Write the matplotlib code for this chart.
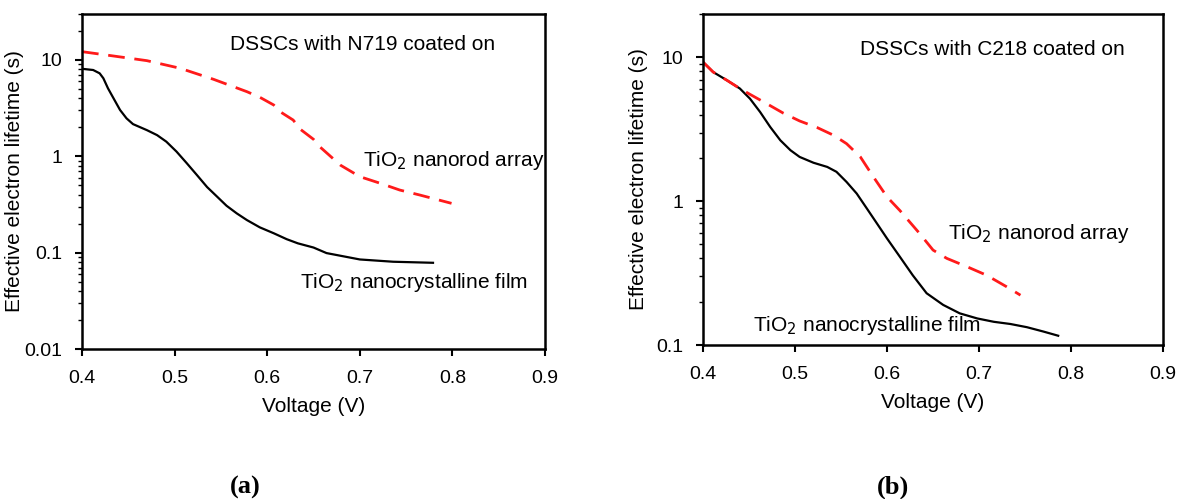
import matplotlib
matplotlib.use("Agg")
import matplotlib.pyplot as plt
from matplotlib.ticker import LogLocator, FixedLocator, NullFormatter

plt.rcParams['font.family'] = ['Liberation Sans', 'DejaVu Sans']

# Panel (a): N719
a_film_v = [0.400, 0.412, 0.419, 0.423, 0.428, 0.434, 0.441, 0.448, 0.455, 0.463, 0.470,
            0.481, 0.491, 0.502, 0.513, 0.524, 0.535, 0.546, 0.556, 0.567, 0.578,
            0.592, 0.607, 0.621, 0.633, 0.650, 0.664, 0.700, 0.736, 0.779]
a_film_t = [8.1, 7.87, 7.27, 6.46, 5.08, 4.0, 3.03, 2.48, 2.16, 2.0, 1.87,
            1.66, 1.42, 1.12, 0.85, 0.64, 0.48, 0.38, 0.307, 0.256, 0.218,
            0.183, 0.159, 0.138, 0.125, 0.113, 0.099, 0.085, 0.0805, 0.0785]
a_rod_v = [0.400, 0.434, 0.470, 0.506, 0.542, 0.578, 0.592, 0.607, 0.614, 0.628, 0.636,
           0.650, 0.657, 0.679, 0.700, 0.722, 0.743, 0.765, 0.799]
a_rod_t = [12.2, 11.0, 9.84, 8.2, 6.3, 4.69, 4.1, 3.41, 2.9, 2.38, 1.9,
           1.5, 1.25, 0.81, 0.615, 0.525, 0.447, 0.396, 0.325]

# Panel (b): C218
b_film_v = [0.400, 0.411, 0.426, 0.440, 0.451, 0.462, 0.473, 0.484, 0.495, 0.505, 0.520,
            0.535, 0.545, 0.556, 0.567, 0.578, 0.589, 0.600, 0.614, 0.628, 0.643,
            0.661, 0.679, 0.698, 0.716, 0.734, 0.752, 0.770, 0.786]
b_film_t = [9.27, 7.9, 6.92, 6.07, 5.16, 4.17, 3.28, 2.65, 2.26, 2.03, 1.85,
            1.73, 1.6, 1.36, 1.13, 0.89, 0.70, 0.55, 0.41, 0.305, 0.229,
            0.19, 0.166, 0.153, 0.145, 0.14, 0.133, 0.124, 0.116]
b_rod_v = [0.400, 0.411, 0.426, 0.440, 0.451, 0.469, 0.487, 0.505, 0.524, 0.542, 0.556,
           0.571, 0.585, 0.600, 0.614, 0.635, 0.650, 0.665, 0.687, 0.708, 0.730, 0.745]
b_rod_t = [9.27, 7.9, 6.92, 6.07, 5.53, 4.77, 4.1, 3.61, 3.25, 2.87, 2.51,
           2.03, 1.48, 1.07, 0.86, 0.6, 0.457, 0.40, 0.35, 0.306, 0.254, 0.222]

x_ticks = [0.4, 0.5, 0.6, 0.7, 0.8, 0.9]

fig = plt.figure(figsize=(11.79, 4.99), dpi=100)
axA = fig.add_axes([0.0696, 0.3006, 0.3927, 0.6713])
axB = fig.add_axes([0.5963, 0.3086, 0.3902, 0.6633])

def style(ax, ylim, yticks, ylabels, ylabel_x):
    ax.set_yscale('log')
    ax.set_xlim(0.4, 0.9)
    ax.set_ylim(*ylim)
    ax.set_xticks(x_ticks)
    ax.set_xticklabels([f"{t:.1f}" for t in x_ticks])
    ax.yaxis.set_major_locator(FixedLocator(yticks))
    ax.set_yticklabels(ylabels)
    ax.yaxis.set_minor_locator(LogLocator(base=10, subs=range(2, 10)))
    ax.yaxis.set_minor_formatter(NullFormatter())
    ax.tick_params(axis='both', which='major', direction='out', length=5, width=1.5,
                   labelsize=14)
    ax.tick_params(axis='y', which='major', pad=9)
    ax.tick_params(axis='x', which='major', pad=10)
    ax.tick_params(axis='y', which='minor', direction='out', length=3, width=1.0)
    for s in ax.spines.values():
        s.set_linewidth(1.8)
    ax.set_xlabel('Voltage (V)', fontsize=15, labelpad=7)
    ax.set_ylabel('Effective electron lifetime (s)', fontsize=15)
    ax.yaxis.set_label_coords(ylabel_x, 0.5)

axA.plot(a_film_v, a_film_t, color='black', lw=1.6)
axA.plot(a_rod_v, a_rod_t, color='#ff1a1a', lw=2.0, dashes=(6, 3.5))
style(axA, (0.01, 30), [0.01, 0.1, 1, 10], ['0.01', '0.1', '1', '10'], -0.125)
axA.text(0.32, 0.91, 'DSSCs with N719 coated on', transform=axA.transAxes,
         fontsize=15, va='center', ha='left')
axA.text(0.607, 0.564, 'TiO$_2$ nanorod array', transform=axA.transAxes,
         fontsize=15, va='center', ha='left')
axA.text(0.471, 0.20, 'TiO$_2$ nanocrystalline film', transform=axA.transAxes,
         fontsize=15, va='center', ha='left')

axB.plot(b_film_v, b_film_t, color='black', lw=1.6)
axB.plot(b_rod_v, b_rod_t, color='#ff1a1a', lw=2.0, dashes=(6, 3.5))
style(axB, (0.1, 20), [0.1, 1, 10], ['0.1', '1', '10'], -0.12)
axB.text(0.341, 0.894, 'DSSCs with C218 coated on', transform=axB.transAxes,
         fontsize=15, va='center', ha='left')
axB.text(0.533, 0.338, 'TiO$_2$ nanorod array', transform=axB.transAxes,
         fontsize=15, va='center', ha='left')
axB.text(0.109, 0.06, 'TiO$_2$ nanocrystalline film', transform=axB.transAxes,
         fontsize=15, va='center', ha='left')

fig.text(245 / 1179, 1 - 487 / 499, '(a)', fontsize=19, fontweight='bold',
         family=['Liberation Serif', 'DejaVu Serif'], ha='center', va='center')
fig.text(893 / 1179, 1 - 487 / 499, '(b)', fontsize=19, fontweight='bold',
         family=['Liberation Serif', 'DejaVu Serif'], ha='center', va='center')

fig.savefig('out.png', dpi=100)
